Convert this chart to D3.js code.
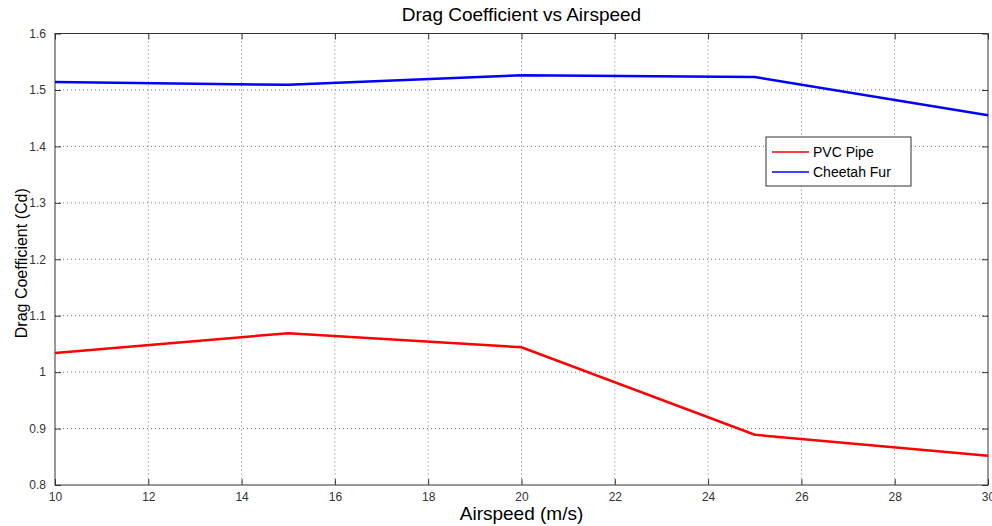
<!DOCTYPE html>
<html>
<head>
<meta charset="utf-8">
<script src="https://cdn.jsdelivr.net/npm/d3@7"></script>
<style>
  body { margin: 0; background: #fff; }
  svg { font-family: "Liberation Sans", Arial, sans-serif; }
</style>
</head>
<body>
<div class="container"></div>
<script>
const airspeed = [10, 15, 20, 25, 30];
const pvcPipe = [1.034, 1.069, 1.044, 0.889, 0.852];
const cheetahFur = [1.514, 1.509, 1.526, 1.523, 1.455];
const xTicks = [10, 12, 14, 16, 18, 20, 22, 24, 26, 28, 30];
const yTicks = [0.8, 0.9, 1, 1.1, 1.2, 1.3, 1.4, 1.5, 1.6];

const w = 992, h = 526;
const m = {top: 33.5, right: 4, bottom: 41, left: 55};
const iw = w - m.left - m.right, ih = h - m.top - m.bottom;

const svg = d3.select('.container').append('svg')
    .attr('width', w).attr('height', h);

const x = d3.scaleLinear().domain([10, 30]).range([0, iw]);
const y = d3.scaleLinear().domain([0.8, 1.6]).range([ih, 0]);

const g = svg.append('g').attr('transform', `translate(${m.left},${m.top})`);

// grid
g.append('g').selectAll('line')
    .data(xTicks.slice(1, -1))
    .enter().append('line')
    .attr('x1', d => x(d)).attr('x2', d => x(d))
    .attr('y1', 0).attr('y2', ih)
    .attr('stroke', '#777').attr('stroke-width', 1)
    .attr('stroke-dasharray', '1,3');
g.append('g').selectAll('line')
    .data(yTicks.slice(1, -1))
    .enter().append('line')
    .attr('y1', d => y(d)).attr('y2', d => y(d))
    .attr('x1', 0).attr('x2', iw)
    .attr('stroke', '#777').attr('stroke-width', 1)
    .attr('stroke-dasharray', '1,3');

// axes, ticks pointing inward
const styleAxis = a => {
    a.select('.domain').remove();
    a.selectAll('line').attr('stroke', '#333');
    a.selectAll('text').attr('fill', '#333').style('font-size', '12px')
        .style('font-family', '"Liberation Sans", Arial, sans-serif');
};
g.append('g').attr('transform', `translate(0,${ih})`)
    .call(d3.axisBottom(x).tickValues(xTicks).tickSize(-6).tickPadding(7).tickFormat(d3.format('d')))
    .call(styleAxis);
g.append('g')
    .call(d3.axisLeft(y).tickValues(yTicks).tickSize(-6).tickPadding(9).tickFormat(d => d3.format('.1~f')(d)))
    .call(styleAxis);
g.append('g')
    .call(d3.axisTop(x).tickValues(xTicks).tickSize(-6).tickFormat(''))
    .call(styleAxis);
g.append('g').attr('transform', `translate(${iw},0)`)
    .call(d3.axisRight(y).tickValues(yTicks).tickSize(-6).tickFormat(''))
    .call(styleAxis);

// box
g.append('rect').attr('width', iw).attr('height', ih)
    .attr('fill', 'none').attr('stroke', '#333').attr('stroke-width', 1);

// lines
const line = d3.line().x((d, i) => x(airspeed[i])).y(d => y(d));
g.append('path').datum(pvcPipe).attr('d', line)
    .attr('fill', 'none').attr('stroke', '#ff0000').attr('stroke-width', 2.5);
g.append('path').datum(cheetahFur).attr('d', line)
    .attr('fill', 'none').attr('stroke', '#0000ff').attr('stroke-width', 2.5);

// legend
const legend = svg.append('g').attr('transform', 'translate(766,137)');
legend.append('rect').attr('width', 145).attr('height', 49)
    .attr('fill', '#fff').attr('stroke', '#333').attr('stroke-width', 1);
const items = [['PVC Pipe', '#ff0000'], ['Cheetah Fur', '#0000ff']];
items.forEach(([name, c], i) => {
    const yy = 15 + i * 20;
    legend.append('line').attr('x1', 6).attr('x2', 43).attr('y1', yy).attr('y2', yy)
        .attr('stroke', c).attr('stroke-width', 1.5);
    legend.append('text').attr('x', 47).attr('y', yy + 5)
        .style('font-size', '14px').attr('fill', '#000').text(name);
});

// titles
svg.append('text').attr('x', m.left + iw / 2).attr('y', 21)
    .attr('text-anchor', 'middle').style('font-size', '19px').attr('fill', '#000')
    .text('Drag Coefficient vs Airspeed');
svg.append('text').attr('x', m.left + iw / 2).attr('y', 520)
    .attr('text-anchor', 'middle').style('font-size', '19px').attr('fill', '#000')
    .text('Airspeed (m/s)');
svg.append('text')
    .attr('transform', `translate(27,${m.top + ih / 2 + 4}) rotate(-90)`)
    .attr('text-anchor', 'middle').style('font-size', '16px').attr('fill', '#000')
    .text('Drag Coefficient (Cd)');
</script>
</body>
</html>
